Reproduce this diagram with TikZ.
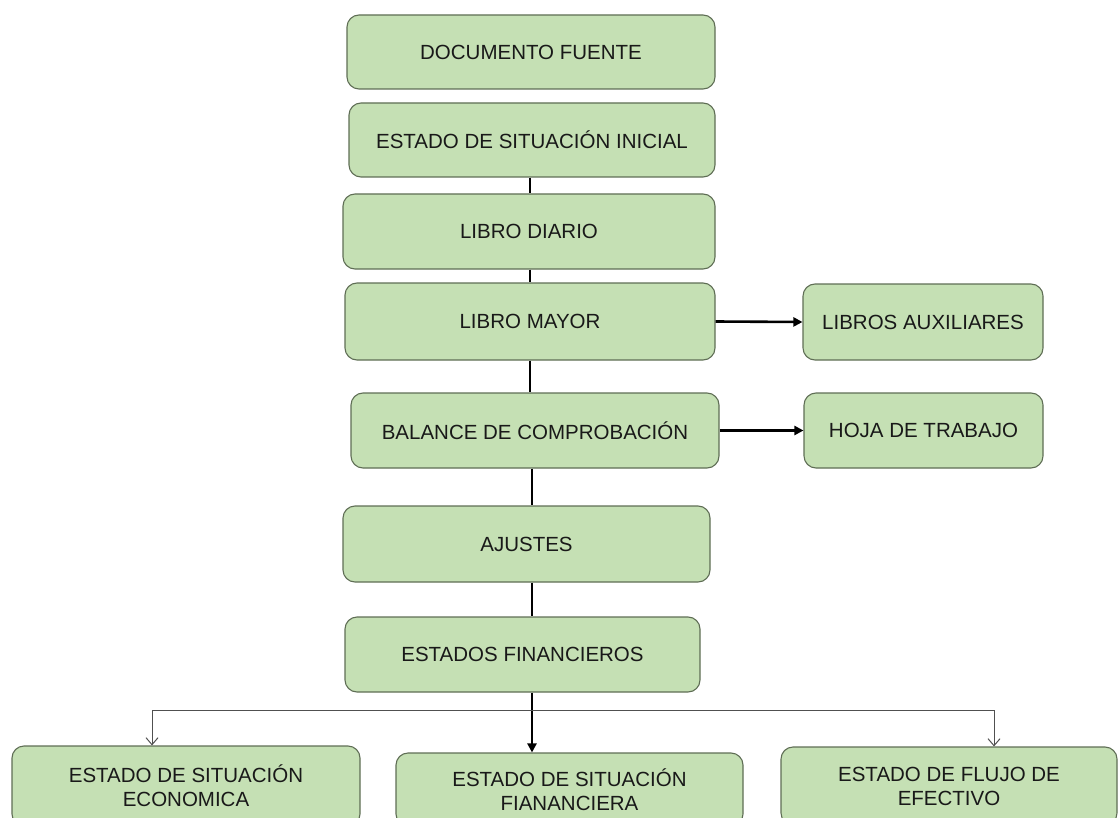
\documentclass[tikz,border=0pt]{standalone}
\usepackage{fontspec}
\setmainfont{Liberation Sans}
\usetikzlibrary{arrows.meta}
\definecolor{boxfill}{RGB}{197,224,180}
\definecolor{boxline}{RGB}{95,110,85}
\definecolor{thinline}{RGB}{80,80,80}
\begin{document}
\begin{tikzpicture}[x=1pt,y=-1pt,
  box/.style={draw=boxline, line width=1.1pt, fill=boxfill, rounded corners=12pt,
    inner sep=0pt, font=\fontsize{20.5}{24}\selectfont, text=black!90, align=center},
  link/.style={line width=2.6pt, black},
  arr/.style={link, -{Triangle[length=9pt,width=9pt]}},
  thinln/.style={line width=1pt, thinline},
  thinarr/.style={thinln, -{Straight Barb[length=7pt,width=12pt]}}]
\useasboundingbox (0,0) rectangle (1118,818);
\clip (0,0) rectangle (1118,818);
% main column
\node[box, minimum width=368pt, minimum height=74pt] (doc) at (531,52) {DOCUMENTO FUENTE};
\node[box, minimum width=366pt, minimum height=74pt] (esi) at (532,140) {ESTADO DE SITUACIÓN INICIAL};
\node[box, minimum width=372pt, minimum height=75pt] (diario) at (529,231.5) {LIBRO DIARIO};
\node[box, minimum width=370pt, minimum height=77pt] (mayor) at (530,321.5) {LIBRO MAYOR};
\node[box, minimum width=240pt, minimum height=76pt] (aux) at (923,322) {LIBROS AUXILIARES};
\node[box, minimum width=368pt, minimum height=75pt] (balance) at (535,430.5) {BALANCE DE COMPROBACIÓN};
\node[box, minimum width=239pt, minimum height=75pt] (hoja) at (923.5,430.5) {HOJA DE TRABAJO};
\node[box, minimum width=367pt, minimum height=76pt] (ajustes) at (526.5,544) {AJUSTES};
\node[box, minimum width=355pt, minimum height=75pt] (ef) at (522.5,654.5) {ESTADOS FINANCIEROS};
% bottom row
\node[box, minimum width=348pt, minimum height=80pt] (eco) at (186,786) {ESTADO DE SITUACIÓN\\ECONOMICA};
\node[box, minimum width=347pt, minimum height=73pt] (fin) at (569.5,789.5) {ESTADO DE SITUACIÓN\\FIANANCIERA};
\node[box, minimum width=336pt, minimum height=78pt] (flujo) at (949,786) {ESTADO DE FLUJO DE\\EFECTIVO};
% spine coordinates
\coordinate (s1) at (530,0);
\coordinate (s2) at (532,0);
\coordinate (la) at (152,710);
\coordinate (ra) at (994,710);
% vertical links
\draw[link] (s1 |- esi.south) -- (s1 |- diario.north);
\draw[link] (s1 |- diario.south) -- (s1 |- mayor.north);
\draw[link] (s1 |- mayor.south) -- (s1 |- balance.north);
\draw[link] (s2 |- balance.south) -- (s2 |- ajustes.north);
\draw[link] (s2 |- ajustes.south) -- (s2 |- ef.north);
\draw[arr] (s2 |- ef.south) -- (s2 |- fin.north);
% side arrows
\draw[arr] (mayor.east) -- (aux.west);
\draw[arr] (balance.east) -- (hoja.west);
% thin branch
\draw[thinln] (la) -- (ra);
\draw[thinarr] (la) -- (la |- eco.north);
\draw[thinarr] (ra) -- (ra |- flujo.north);
\end{tikzpicture}
\end{document}
